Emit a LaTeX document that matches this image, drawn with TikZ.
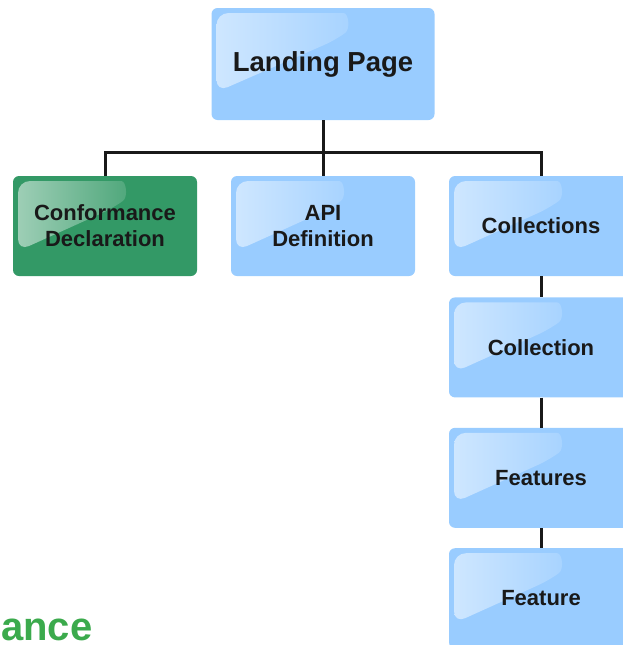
\documentclass[tikz,border=0pt]{standalone}
\usepackage{fontspec}
\setmainfont{Liberation Sans}
\usetikzlibrary{calc,positioning}

\definecolor{pageblue}{HTML}{99CCFF}
\definecolor{declgreen}{HTML}{339966}
\definecolor{titlegreen}{HTML}{3BAA4C}

\begin{document}
\begin{tikzpicture}[
    x=1pt, y=-1pt,
    box/.style={rounded corners=6pt, align=center, inner sep=0pt, text=black!90,
      font=\fontsize{22}{26}\selectfont\bfseries, minimum width=184pt, minimum height=100pt},
    gloss/.style={path picture={
      \coordinate (gnw) at ([shift={(5pt,-5pt)}]path picture bounding box.north west);
      \coordinate (gne) at ($(path picture bounding box.north west)!0.61!(path picture bounding box.north east)+(0pt,-5pt)$);
      \coordinate (gsw) at ($(path picture bounding box.north west)!0.75!(path picture bounding box.south west)+(5pt,0pt)$);
      \shade[left color=white!52!#1, right color=white!14!#1, rounded corners=12pt]
        (gsw) -- (gnw) -- ([xshift=-16pt]gne)
        .. controls ([xshift=1pt]gne) and ([shift={(3pt,-16pt)}]gne) .. ([shift={(-12pt,-27pt)}]gne)
        -- cycle;
    }},
    page/.style={box, fill=pageblue, gloss=pageblue},
    decl/.style={box, fill=declgreen, gloss=declgreen},
    link/.style={line width=3pt, black!90}
  ]
    \useasboundingbox (0,0) rectangle (623,645);
    \clip (0,0) rectangle (623,645);

    \node[page, minimum width=223pt, minimum height=112pt, font=\fontsize{27.5}{32}\selectfont\bfseries] (landing) at (323,64) {Landing Page};
    \node[decl] (conformance) at (105,226) {Conformance\\Declaration};
    \node[page] (apidef) at (323,226) {API\\Definition};
    \node[page] (collections) at (541,226) {Collections};
    \node[page, below=21pt of collections] (collection) {Collection};
    \node[page, below=30pt of collection] (features) {Features};
    \node[page, below=20pt of features] (feature) {Feature};

    \node[anchor=base west, inner sep=0pt, text=titlegreen,
      font=\fontsize{40}{48}\selectfont\bfseries] (title) at (1,640) {ance};

    \draw[link] (landing.south) -- (apidef.north);
    \draw[link] (conformance.north) -- ++(0,-23) -| (collections.north);
    \draw[link] (collections) -- (collection);
    \draw[link] (collection) -- (features);
    \draw[link] (features) -- (feature);
\end{tikzpicture}
\end{document}
